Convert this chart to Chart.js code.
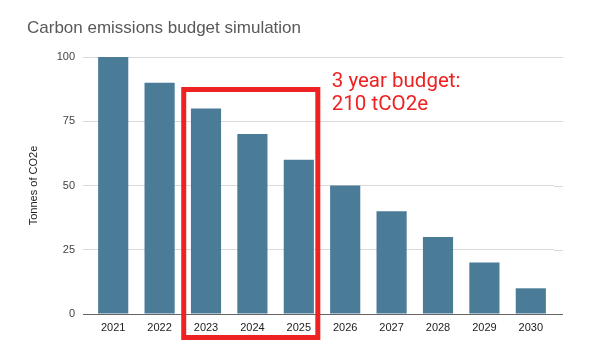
<!DOCTYPE html>
<html><head><meta charset="utf-8">
<script src="https://cdn.jsdelivr.net/npm/chart.js@4/dist/chart.umd.min.js"></script>
<style>html,body{margin:0;padding:0;background:#fff}</style>
</head><body>
<canvas id="c" width="594" height="358"></canvas>
<script>
const categories = ['2021','2022','2023','2024','2025','2026','2027','2028','2029','2030'];
const emissions = [100, 90, 80, 70, 60, 50, 40, 30, 20, 10];
const yTicks = [0, 25, 50, 75, 100];
const chartTitle = 'Carbon emissions budget simulation';
const yAxisTitle = 'Tonnes of CO2e';
const budgetNote = ['3 year budget:', '210 tCO2e'];
const budgetYears = ['2023', '2025'];

const FONT = "'Liberation Sans', Arial, sans-serif";

const extras = {
  id: 'extras',
  beforeDatasetsDraw(chart) {
    const {ctx, chartArea, scales} = chart;
    ctx.save();
    yTicks.forEach(v => {
      const y = Math.round(scales.y.getPixelForValue(v)) + 0.5;
      ctx.strokeStyle = v === 0 ? '#666' : '#dadada';
      ctx.lineWidth = 1;
      ctx.beginPath();
      ctx.moveTo(chartArea.right, y);
      ctx.lineTo(chartArea.right + 9, y);
      ctx.stroke();
    });
    ctx.restore();
  },
  afterDraw(chart) {
    const {ctx, chartArea, scales} = chart;
    ctx.save();
    // title
    ctx.fillStyle = '#595959';
    ctx.font = "17px " + FONT;
    ctx.textBaseline = 'alphabetic';
    ctx.textAlign = 'left';
    ctx.fillText(chartTitle, 27, 33);
    // budget box
    const x = scales.x;
    const step = x.getPixelForValue(1) - x.getPixelForValue(0);
    const l = x.getPixelForValue(categories.indexOf(budgetYears[0])) - 0.48 * step;
    const r = x.getPixelForValue(categories.indexOf(budgetYears[1])) + 0.41 * step;
    const t = chartArea.top + 32.5;
    const b = chartArea.bottom + 23.5;
    ctx.strokeStyle = '#ee2222';
    ctx.lineWidth = 5;
    ctx.strokeRect(l, t, r - l, b - t);
    // note
    ctx.fillStyle = '#ee2222';
    ctx.font = "20.5px Roboto, sans-serif";
    ctx.fillText(budgetNote[0], r + 14, 87);
    ctx.fillText(budgetNote[1], r + 14, 110);
    ctx.restore();
  }
};

new Chart(document.getElementById('c'), {
  type: 'bar',
  data: {
    labels: categories,
    datasets: [{
      data: emissions,
      backgroundColor: '#4a7b97',
      barPercentage: 0.65,
      categoryPercentage: 1.0
    }]
  },
  options: {
    responsive: false,
    animation: false,
    events: [],
    layout: { padding: { left: 27, right: 40, top: 57, bottom: 0 } },
    plugins: { legend: { display: false }, title: { display: false }, tooltip: { enabled: false } },
    scales: {
      x: {
        grid: { display: false, drawTicks: false },
        border: { display: false },
        ticks: { color: '#222', font: { family: FONT, size: 11 }, padding: 7, maxRotation: 0 },
        afterFit(s) { s.height = 358 - 314; }
      },
      y: {
        min: 0, max: 100,
        afterBuildTicks(s) { s.ticks = yTicks.map(v => ({ value: v })); },
        grid: {
          color: c => (c.tick && c.tick.value === 0) ? '#666' : '#dadada',
          drawTicks: true, tickLength: 7
        },
        border: { display: false },
        ticks: { color: '#444', font: { family: FONT, size: 11 }, padding: 8 },
        title: { display: true, text: yAxisTitle, color: '#222', font: { family: FONT, size: 11 }, padding: { top: 0, bottom: 0 } },
        afterFit(s) { s.width = 90 - 27; }
      }
    }
  },
  plugins: [extras]
});
</script>
</body></html>
